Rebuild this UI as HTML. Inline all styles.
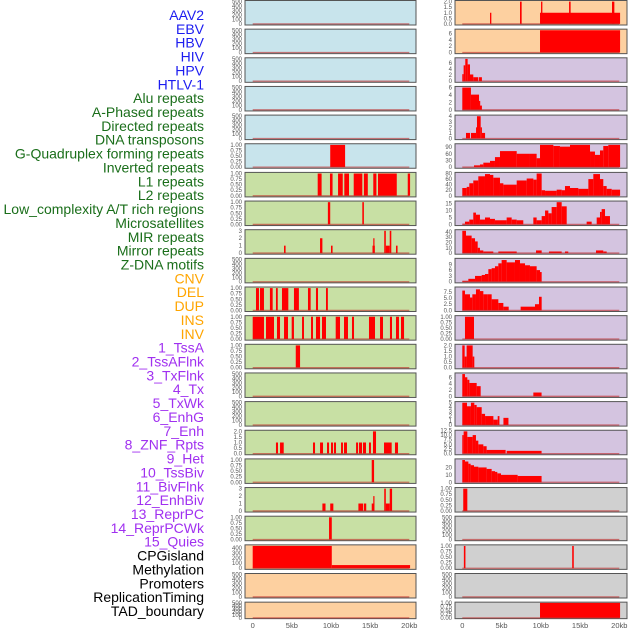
<!DOCTYPE html>
<html><head><meta charset="utf-8">
<style>
html,body{margin:0;padding:0;background:#fff;}
svg{display:block;font-family:"Liberation Sans",sans-serif;}
</style></head>
<body>
<svg id="chart" width="630" height="630" viewBox="0 0 630 630" xmlns="http://www.w3.org/2000/svg"></svg>
<script>
// ---- data ----
const trackLabels = ["AAV2","EBV","HBV","HIV","HPV","HTLV-1","Alu repeats","A-Phased repeats","Directed repeats","DNA transposons","G-Quadruplex forming repeats","Inverted repeats","L1 repeats","L2 repeats","Low_complexity A/T rich regions","Microsatellites","MIR repeats","Mirror repeats","Z-DNA motifs","CNV","DEL","DUP","INS","INV","1_TssA","2_TssAFlnk","3_TxFlnk","4_Tx","5_TxWk","6_EnhG","7_Enh","8_ZNF_Rpts","9_Het","10_TssBiv","11_BivFlnk","12_EnhBiv","13_ReprPC","14_ReprPCWk","15_Quies","CPGisland","Methylation","Promoters","ReplicationTiming","TAD_boundary"];
const labelGroups = [6,13,5,15,5];
const groupColors = ["#1c1cf0","#1a6e1a","#ffa500","#a030f0","#000000"];
const xTickKb = [0,5,10,15,20];
const xTickLabels = ["0","5kb","10kb","15kb","20kb"];

const leftBg = ["#c8e4ec","#c8e4ec","#c8e4ec","#c8e4ec","#c8e4ec","#c8e4ec","#c8e0a4","#c8e0a4","#c8e0a4","#c8e0a4","#c8e0a4","#c8e0a4","#c8e0a4","#c8e0a4","#c8e0a4","#c8e0a4","#c8e0a4","#c8e0a4","#c8e0a4","#fdd0a0","#fdd0a0","#fdd0a0"];
const rightBg = ["#fdd0a0","#fdd0a0","#d4c4e0","#d4c4e0","#d4c4e0","#d4c4e0","#d4c4e0","#d4c4e0","#d4c4e0","#d4c4e0","#d4c4e0","#d4c4e0","#d4c4e0","#d4c4e0","#d4c4e0","#d4c4e0","#d4c4e0","#d0d0d0","#d0d0d0","#d0d0d0","#d0d0d0","#d0d0d0"];

const T500 = ["0","100","200","300","400","500"];
const T1 = ["0.00","0.25","0.50","0.75","1.00"];
const leftMax = [500,500,500,500,500,1,1,1,3,500,1,1,1,500,500,2,1,3,1,437,500,500];
const leftTicks = [T500,T500,T500,T500,T500,T1,T1,T1,["0","1","2","3"],T500,T1,T1,T1,T500,T500,["0.0","0.5","1.0","1.5","2.0"],T1,["0","1","2","3"],T1,["0","100","200","300","400"],T500,T500];
const leftSegs = [
 [],[],[],[],[],
 [[9.9,11.8,1]],
 [[8.3,8.8,1],[9.87,10.2,1],[10.9,11.5,1],[11.7,12.3,1],[12.9,14.0,1],[14.2,14.7,1],[15.4,15.8,1],[16.0,18.4,1],[19.8,20.1,1]],
 [[9.6,9.9,1],[14.0,14.2,1]],
 [[4.0,4.2,1],[8.6,8.9,2],[10.0,10.2,1],[15.3,15.6,1],[15.4,15.5,2],[16.8,17.0,3],[17.0,17.5,1],[17.5,17.7,3],[18.3,18.5,1]],
 [],
 [[0.42,0.8,1],[0.93,1.44,1],[2.2,2.55,1],[2.97,3.2,1],[3.74,4.55,1],[5.27,5.9,1],[7.06,7.4,1],[8.08,8.34,1],[9.36,9.6,1]],
 [[0,1.44,1],[1.7,2.72,1],[3.1,3.49,1],[4.0,4.51,1],[4.98,5.27,1],[6.3,6.55,1],[7.45,7.7,1],[8.08,8.6,1],[8.85,9.36,1],[10.6,11.15,1],[11.66,12.17,1],[12.68,12.94,1],[14.85,15.62,1],[16.26,16.64,1],[17.53,17.79,1],[18.3,18.68,1],[18.94,19.33,1]],
 [[5.5,6.05,1]],
 [],[],
 [[2.97,3.23,1],[3.49,3.96,1],[7.7,7.96,1],[8.6,8.98,1],[9.49,9.75,1],[10.0,10.26,1],[10.38,10.64,1],[11.28,11.53,1],[11.66,12.04,1],[13.2,13.45,1],[13.57,13.96,1],[14.08,14.47,1],[14.85,15.1,1],[15.36,15.75,2],[16.77,17.75,1],[18.17,18.56,1]],
 [[15.2,15.5,1]],
 [[8.9,9.3,1],[9.9,10.3,1],[13.5,14.1,1],[14.2,14.5,1],[15.2,15.5,1],[15.4,15.5,2],[16.8,17.0,3],[17.0,17.5,1],[17.5,17.8,3]],
 [[9.75,10.1,1]],
 [[0,10.1,437],[10.1,20.1,62]],
 [],[]
];

const rightMax = [2,7,7.3,6,4,100,80,16,42,11.5,9,1,2,7,5,12,30,1,500,1,500,1];
const rightTicks = [["0.0","0.5","1.0","1.5","2.0"],["0","2","4","6"],["0","2","4","6"],["0","2","4","6"],["0","1","2","3","4"],["0","30","60","90"],["0","20","40","60","80"],["0","5","10","15"],["0","10","20","30","40"],["0","3","6","9"],["0.0","2.5","5.0","7.5"],T1,["0.0","0.5","1.0","1.5","2.0"],["0","2","4","6"],["0","1","2","3","4","5"],["0.0","2.5","5.0","7.5","10.0","12.5"],["0","10","20"],T1,T500,T1,T500,T1];
const rightSegs = [
 [[3.53,3.7,1],[7.35,7.56,2],[9.9,20.1,1],[10.03,10.2,2],[13.6,13.8,2],[19.07,19.37,2]],
 [[9.9,20.1,7]],
 [[0,0.17,2.3],[0.17,0.38,5.2],[0.38,0.68,7.3],[0.68,0.98,5.5],[0.98,1.4,2.2],[1.4,2.04,1.3],[2.13,2.5,1.3]],
 [[0,1.1,6],[1.1,2.13,4.1],[2.13,2.25,2.4],[2.25,2.5,1.15]],
 [[0.47,0.98,1],[1.1,1.75,1],[1.75,1.87,2],[1.87,2.34,4],[2.34,2.5,2],[2.5,2.9,1]],
 [[0,1.49,1],[1.49,2.25,8],[2.25,2.68,12],[2.68,3.53,20],[3.53,4.16,28],[4.16,4.8,45],[4.8,6.93,72],[6.93,8.62,60],[8.62,9.47,60],[9.47,9.9,40],[9.9,11.6,100],[11.6,12.44,95],[12.44,13.72,92],[13.72,16.27,100],[16.27,16.9,70],[16.9,17.54,55],[17.54,17.96,75],[17.96,18.6,95],[18.6,20.1,100]],
 [[0,0.56,28],[0.56,0.89,32],[0.89,1.4,45],[1.4,2.04,55],[2.04,2.89,70],[2.89,3.53,78],[3.53,3.95,75],[3.95,4.8,65],[4.8,5.23,45],[5.23,6.93,40],[6.93,8.2,55],[8.2,9.05,62],[9.05,9.47,58],[9.47,10.11,80],[10.11,10.54,20],[10.54,11.17,18],[11.17,12.02,18],[12.02,12.66,22],[12.66,13.08,20],[13.08,13.72,35],[13.72,14.78,28],[14.78,16.06,25],[16.06,16.69,60],[16.69,17.54,78],[17.54,17.96,60],[17.96,18.39,35],[18.39,19.03,25],[19.03,20.1,22]],
 [[0,0.34,0.5],[0.34,0.89,2],[0.89,1.4,3.5],[1.4,1.74,8.5],[1.74,2.25,7],[2.25,2.89,3.5],[2.89,3.53,5],[3.53,4.16,4],[4.16,5.65,3],[5.65,6.29,5],[6.29,6.93,3.5],[6.93,7.77,3],[9.05,9.47,5],[9.47,10.11,3],[10.11,10.54,6],[10.54,10.96,10],[10.96,11.38,8],[11.38,12.02,12.5],[12.02,12.66,16],[12.66,13.3,13],[15.84,16.48,2],[17.12,17.54,5],[17.54,17.75,9],[17.75,18.18,11],[18.18,18.81,6]],
 [[0,0.47,42],[0.47,1.19,33],[1.19,1.62,28],[1.62,1.96,22],[1.96,2.25,10],[2.25,2.68,5],[2.68,3.95,3],[4.59,6.93,3],[9.39,10.11,5],[11.04,12.66,3],[13.08,13.5,3],[17.03,17.96,5],[17.96,18.39,3]],
 [[0,0.77,0.5],[0.77,1.62,1.5],[1.62,2.47,3],[2.47,2.89,3.5],[2.89,3.32,4],[3.32,3.74,6.5],[3.74,4.16,7],[4.16,4.59,8],[4.59,5.01,9.5],[5.01,5.65,11.2],[5.65,6.71,10],[6.71,7.35,11.2],[7.35,7.99,9.5],[7.99,8.62,8.5],[8.62,9.47,8],[9.47,9.9,6],[9.9,10.11,5]],
 [[0,0.34,8],[0.34,0.98,6.5],[0.98,1.28,5.2],[1.28,1.74,6.5],[1.74,2.25,8.5],[2.25,2.68,7.8],[2.68,3.19,6.5],[3.19,3.74,6.5],[3.74,4.59,4.5],[4.59,5.23,3],[5.23,5.91,1.5],[7.43,9.26,1.5],[9.26,9.77,2.5],[9.77,10.11,5.5]],
 [[0.34,1.49,1]],
 [[0,0.3,2],[0.3,0.55,1],[0.55,1.32,2],[1.32,1.53,1]],
 [[0,0.34,7],[0.34,0.64,6],[0.64,0.9,5.2],[0.9,1.83,4.2],[1.83,2.34,3.2],[9.05,10.1,1.2]],
 [[0,0.6,5],[0.6,1.1,4.2],[1.1,1.53,5],[1.53,1.83,4.5],[1.83,2.47,4],[2.47,2.9,2.5],[2.9,3.96,2],[3.96,4.51,1.2],[4.51,4.73,2],[5.24,5.88,1.6]],
 [[0,0.17,10],[0.17,0.64,12],[0.64,1.32,9],[1.32,1.74,10],[1.74,2.04,7],[2.04,2.68,5],[2.68,3.1,4],[3.1,5.52,2],[5.65,10.1,1.5]],
 [[0,0.34,30],[0.34,0.77,28],[0.77,1.06,25],[1.06,1.49,23],[1.49,2.04,21],[2.04,3.1,20],[3.1,3.74,18],[3.74,4.17,15],[4.17,4.46,14],[4.46,4.93,12],[4.93,7.05,10],[7.05,10.1,8.5]],
 [[0.12,0.64,1]],
 [],
 [[0.2,0.4,1],[14.0,14.2,1]],
 [],
 [[9.9,20.1,1]]
];

// ---- layout ----
const NS = "http://www.w3.org/2000/svg";
const svg = document.getElementById("chart");
const ROW_PITCH = 28.65;
const LABEL_STEP = (611-15)/43;
const cols = [
 {x0:245,x1:416,kb0:252.7,kbs:7.83,bg:leftBg,max:leftMax,ticks:leftTicks,segs:leftSegs,name:"left"},
 {x0:455,x1:627,kb0:462.3,kbs:7.85,bg:rightBg,max:rightMax,ticks:rightTicks,segs:rightSegs,name:"right"}
];
function mk(tag, attrs){const e=document.createElementNS(NS,tag);for(const k in attrs)e.setAttribute(k,attrs[k]);return e;}

// labels
let li=0;
labelGroups.forEach((n,g)=>{
  for(let k=0;k<n;k++){
    const t=mk("text",{x:204,y:(15+li*LABEL_STEP+5).toFixed(2),"text-anchor":"end","font-size":"14",fill:groupColors[g]});
    
    
    t.textContent=trackLabels[li];
    svg.appendChild(t);
    li++;
  }
});

cols.forEach(c=>{
  const xs=kb=>c.kb0+kb*c.kbs;
  for(let i=0;i<22;i++){
    const top=i*ROW_PITCH+0.5;
    const h=(i===21)?16.5:24.5;
    const M=c.max[i];
    const ys=v=>top+h*(1.05*M-v)/(1.1*M);
    const g=mk("g",{});
    
    
    const bg=mk("rect",{x:c.x0,y:top,width:c.x1-c.x0,height:h,fill:c.bg[i],stroke:"#555","stroke-width":"1"});
    
    
    g.appendChild(bg);
    c.segs[i].forEach(s=>{
      const x=xs(s[0]), w=Math.max(xs(s[1])-x,1.2);
      const y=Math.max(ys(s[2]),top+0.5);
      const r=mk("rect",{x:x.toFixed(2),y:y.toFixed(2),width:w.toFixed(2),height:(ys(0)-y).toFixed(2),fill:"#ff0000"});
      
      
      g.appendChild(r);
    });
    const bl=mk("line",{x1:xs(0),x2:xs(20),y1:ys(0),y2:ys(0),stroke:"rgba(190,40,40,0.6)","stroke-width":"1.3"});
    
    
    g.appendChild(bl);
    const tk=c.ticks[i];
    tk.forEach(lbl=>{
      const v=parseFloat(lbl);
      const t=mk("text",{x:c.x0-3,y:(ys(v)+2).toFixed(2),"text-anchor":"end","font-size":"6",fill:"#555"});
      
      
      t.textContent=lbl;
      g.appendChild(t);
    });
    svg.appendChild(g);
  }
  xTickKb.forEach((kb,j)=>{
    const t=mk("text",{x:xs(kb),y:628,"text-anchor":"middle","font-size":"7.5",fill:"#555"});
    
    
    t.textContent=xTickLabels[j];
    svg.appendChild(t);
  });
});
</script>
</body></html>
